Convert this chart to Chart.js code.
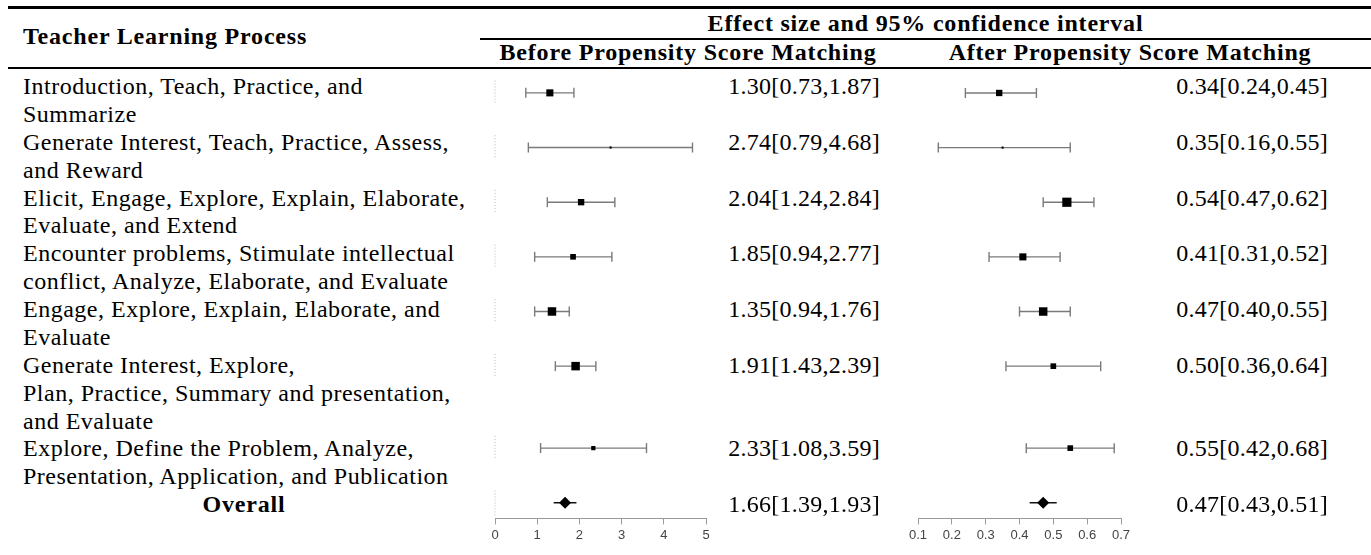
<!DOCTYPE html>
<html>
<head>
<meta charset="utf-8">
<script src="https://cdn.jsdelivr.net/npm/chart.js@4.4.1/dist/chart.umd.min.js"></script>
<style>
body { margin: 0; background: #fff; }
#wrap { position: relative; width: 1371px; height: 555px; overflow: hidden; font-family: "Liberation Serif", serif; color: #000; }
.t { position: absolute; white-space: nowrap; font-size: 24px; line-height: 27.87px; letter-spacing: 0.5px; }
.b { font-weight: bold; letter-spacing: 0.8px; }
.c { text-align: center; }
.r { text-align: right; letter-spacing: 0.25px; }
.rule { position: absolute; background: #000; }
canvas { position: absolute; }
</style>
</head>
<body>
<div id="wrap">
  <div class="rule" style="left:8px;right:0;top:6px;height:3px"></div>
  <div class="rule" style="left:480px;right:0;top:38px;height:2px"></div>
  <div class="rule" style="left:8px;right:0;top:67px;height:2px"></div>
  <div class="t b" style="left:23px;top:23px">Teacher Learning Process</div>
  <div class="t b c" style="left:480px;width:891px;top:10px">Effect size and 95% confidence interval</div>
  <div class="t b c" style="left:480px;width:416px;top:39px">Before Propensity Score Matching</div>
  <div class="t b c" style="left:900px;width:460px;top:39px">After Propensity Score Matching</div>
  <canvas id="before" width="246" height="495" style="left:480px;top:60px"></canvas>
  <canvas id="after" width="241" height="495" style="left:900px;top:60px"></canvas>
</div>
<script>
// rows of the table, each label split into its printed lines
const processes = [
  ["Introduction, Teach, Practice, and", "Summarize"],
  ["Generate Interest, Teach, Practice, Assess,", "and Reward"],
  ["Elicit, Engage, Explore, Explain, Elaborate,", "Evaluate, and Extend"],
  ["Encounter problems, Stimulate intellectual", "conflict, Analyze, Elaborate, and Evaluate"],
  ["Engage, Explore, Explain, Elaborate, and", "Evaluate"],
  ["Generate Interest, Explore,", "Plan, Practice, Summary and presentation,", "and Evaluate"],
  ["Explore, Define the Problem, Analyze,", "Presentation, Application, and Publication"]
];
const overallLabel = "Overall";

// before propensity score matching
const beforeEst = [1.30, 2.74, 2.04, 1.85, 1.35, 1.91, 2.33];
const beforeLo  = [0.73, 0.79, 1.24, 0.94, 0.94, 1.43, 1.08];
const beforeHi  = [1.87, 4.68, 2.84, 2.77, 1.76, 2.39, 3.59];
const beforeOverall = [1.66, 1.39, 1.93];
const beforeTicks = [0, 5, 1];

// after propensity score matching
const afterEst = [0.34, 0.35, 0.54, 0.41, 0.47, 0.50, 0.55];
const afterLo  = [0.24, 0.16, 0.47, 0.31, 0.40, 0.36, 0.42];
const afterHi  = [0.45, 0.55, 0.62, 0.52, 0.55, 0.64, 0.68];
const afterOverall = [0.47, 0.43, 0.51];
const afterTicks = [0.1, 0.7, 0.1];

// square marker radius (weight) per row
const beforeBox = [5, 1.5, 4.5, 4, 6, 6, 3];
const afterBox  = [4.5, 1.5, 6.5, 5, 6, 4, 4];

const LINE = 27.87, FIRST = 87;

// row positions in text lines
const rowPos = [];
let n = 0;
processes.forEach(p => { rowPos.push(n); n += p.length; });
const overallPos = n;

const wrap = document.getElementById("wrap");
function addText(html, cls, style) {
  const d = document.createElement("div");
  d.className = "t " + cls;
  d.innerHTML = html;
  d.setAttribute("style", style);
  wrap.appendChild(d);
}
const fmt = (e, l, h) => e.toFixed(2) + "[" + l.toFixed(2) + "," + h.toFixed(2) + "]";
const topOf = pos => (FIRST - LINE / 2 + pos * LINE) + "px";

processes.forEach((p, i) => {
  addText(p.join("<br>"), "", "left:23px;top:" + topOf(rowPos[i]));
  addText(fmt(beforeEst[i], beforeLo[i], beforeHi[i]), "r", "right:491px;top:" + topOf(rowPos[i]));
  addText(fmt(afterEst[i], afterLo[i], afterHi[i]), "r", "right:43px;top:" + topOf(rowPos[i]));
});
addText(overallLabel, "b c", "left:8px;width:472px;top:" + topOf(overallPos));
addText(fmt(...beforeOverall), "r", "right:491px;top:" + topOf(overallPos));
addText(fmt(...afterOverall), "r", "right:43px;top:" + topOf(overallPos));

function forest(id, est, lo, hi, box, overall, ticks, zeroLine, pad) {
  const ds = [];
  est.forEach((v, i) => {
    ds.push({ type: "line", data: [{ x: lo[i], y: rowPos[i] }, { x: hi[i], y: rowPos[i] }],
      borderColor: "#7a7a7a", borderWidth: 1.4, pointRadius: 0, clip: false, order: 3 });
    if (zeroLine) {
      ds.push({ type: "line", data: [{ x: ticks[0], y: rowPos[i] - 0.45 }, { x: ticks[0], y: rowPos[i] + 0.42 }],
        borderColor: "#b5b5b5", borderWidth: 1, borderDash: [1, 2], pointRadius: 0, clip: false, order: 4 });
    }
  });
  if (zeroLine) {
    ds.push({ type: "line", data: [{ x: ticks[0], y: overallPos - 0.45 }, { x: ticks[0], y: overallPos + 0.5 }],
      borderColor: "#b5b5b5", borderWidth: 1, borderDash: [1, 2], pointRadius: 0, clip: false, order: 4 });
  }
  ds.push({ type: "scatter",
    data: lo.map((l, i) => ({ x: l, y: rowPos[i] })).concat(hi.map((h, i) => ({ x: h, y: rowPos[i] }))),
    pointStyle: "line", rotation: 90, pointRadius: 5, borderColor: "#7a7a7a", borderWidth: 1.4, clip: false, order: 2 });
  ds.push({ type: "scatter", data: est.map((v, i) => ({ x: v, y: rowPos[i] })),
    pointStyle: "rect", pointRadius: box, backgroundColor: "#000", borderColor: "#000", borderWidth: 0, clip: false, order: 1 });
  ds.push({ type: "line", data: [{ x: overall[1], y: overallPos }, { x: overall[2], y: overallPos }],
    borderColor: "#000", borderWidth: 1.4, pointRadius: 0, clip: false, order: 3 });
  ds.push({ type: "scatter", data: [{ x: overall[0], y: overallPos }],
    pointStyle: "rectRot", pointRadius: 6, backgroundColor: "#000", borderColor: "#000", borderWidth: 0, clip: false, order: 0 });

  new Chart(document.getElementById(id), {
    data: { datasets: ds },
    options: {
      responsive: false,
      animation: false,
      events: [],
      layout: { padding: pad },
      plugins: { legend: { display: false }, tooltip: { enabled: false } },
      scales: {
        x: {
          type: "linear", min: ticks[0], max: ticks[1],
          ticks: { stepSize: ticks[2], color: "#444", padding: 3, font: { family: "Liberation Sans", size: 13 } },
          grid: { drawOnChartArea: false, tickLength: 6, color: "#9a9a9a" },
          border: { color: "#9a9a9a", width: 1 }
        },
        y: { type: "linear", display: false, reverse: true, min: (60 - FIRST) / LINE, max: (521 - FIRST) / LINE }
      }
    }
  });
}

forest("before", beforeEst, beforeLo, beforeHi, beforeBox, beforeOverall, beforeTicks, true,
  { left: 15, right: 20, top: 0, bottom: 9 });
forest("after", afterEst, afterLo, afterHi, afterBox, afterOverall, afterTicks, false,
  { left: 18, right: 20, top: 0, bottom: 9 });
</script>
</body>
</html>
